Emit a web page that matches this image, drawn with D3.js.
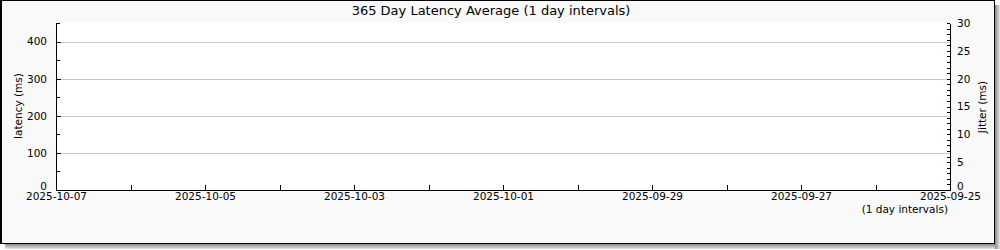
<!DOCTYPE html>
<html>
<head>
<meta charset="utf-8">
<script src="https://cdn.jsdelivr.net/npm/d3@7"></script>
<style>
  body { margin: 0; background: #fff; }
  svg text { font-family: 'DejaVu Sans', sans-serif; fill: #000; }
  .axis path, .axis line { stroke: #000; shape-rendering: crispEdges; }
</style>
</head>
<body>
<svg id="chart" width="1000" height="250"></svg>
<script>
// chart values
const title = '365 Day Latency Average (1 day intervals)'
const dayStart = '2025-09-25'
const dayEnd = '2025-10-07'
const latencyTicks = [0, 100, 200, 300, 400]
const latencyMinor = [50, 150, 250, 350, 450]
const latencyMax = 450
const jitterTicks = [0, 5, 10, 15, 20, 25, 30]
const jitterMax = 30
// no samples in the window, so both series are empty
const latencyDates = []
const latencyValues = []
const jitterValues = []

const plot = { left: 56, right: 950, top: 23, bottom: 190 }
const svg = d3.select('#chart')
const parse = d3.utcParse('%Y-%m-%d')
const fmt = d3.utcFormat('%Y-%m-%d')

// shadow + frame
const defs = svg.append('defs')
const gb = defs.append('linearGradient').attr('id', 'shB').attr('x1', 0).attr('y1', 0).attr('x2', 0).attr('y2', 1)
gb.append('stop').attr('offset', 0).attr('stop-color', '#888')
gb.append('stop').attr('offset', 1).attr('stop-color', '#e8e8e8')
const gr = defs.append('linearGradient').attr('id', 'shR').attr('x1', 0).attr('y1', 0).attr('x2', 1).attr('y2', 0)
gr.append('stop').attr('offset', 0).attr('stop-color', '#888')
gr.append('stop').attr('offset', 1).attr('stop-color', '#e8e8e8')
svg.append('rect').attr('x', 5).attr('y', 244).attr('width', 991).attr('height', 5).attr('fill', 'url(#shB)')
svg.append('rect').attr('x', 995).attr('y', 5).attr('width', 5).attr('height', 244).attr('fill', 'url(#shR)')
svg.append('rect')
  .attr('x', 0.5).attr('y', 0.5).attr('width', 994).attr('height', 243)
  .attr('fill', '#f9f9f9').attr('stroke', '#000').attr('stroke-width', 1)
svg.append('rect').attr('x', 0).attr('y', 0).attr('width', 2).attr('height', 244).attr('fill', '#000')

svg.append('rect')
  .attr('x', plot.left).attr('y', plot.top)
  .attr('width', plot.right - plot.left).attr('height', plot.bottom - plot.top)
  .attr('fill', '#fff')

// scales
const x = d3.scaleUtc()
  .domain([parse(dayEnd), parse(dayStart)])
  .range([plot.left, plot.right])
const yLat = d3.scaleLinear().domain([0, latencyMax]).range([plot.bottom, plot.top])
const yJit = d3.scaleLinear().domain([0, jitterMax]).range([plot.bottom, plot.top])

// grid
svg.append('g').selectAll('line')
  .data(latencyTicks.filter(v => v > 0))
  .enter().append('line')
  .attr('x1', plot.left).attr('x2', plot.right)
  .attr('y1', d => Math.round(yLat(d)) + 0.5).attr('y2', d => Math.round(yLat(d)) + 0.5)
  .attr('stroke', '#c8c8c8')

// series (empty)
const line = d3.line().x((d, i) => x(parse(latencyDates[i]))).y(d => yLat(d))
svg.append('path').datum(latencyValues).attr('fill', 'none').attr('stroke', '#00cc00').attr('d', line)
const jline = d3.line().x((d, i) => x(parse(latencyDates[i]))).y(d => yJit(d))
svg.append('path').datum(jitterValues).attr('fill', 'none').attr('stroke', '#0000ff').attr('d', jline)

// left axis
svg.append('g').attr('class', 'axis')
  .attr('transform', `translate(${plot.left},0)`)
  .call(d3.axisLeft(yLat).tickValues(latencyMinor).tickSize(-4).tickSizeOuter(0).tickFormat(''))
const la = svg.append('g').attr('class', 'axis')
  .attr('transform', `translate(${plot.left},0)`)
  .call(d3.axisLeft(yLat).tickValues(latencyTicks).tickSize(-5).tickSizeOuter(0).tickPadding(9))
la.selectAll('text').style('font-size', '10.5px').attr('font-family', null)
  .filter(d => d === 0).attr('dy', '-0.05em')

// right axis
const jMinor = d3.range(0, jitterMax + 1).filter(v => v % 5 !== 0)
svg.append('g').attr('class', 'axis')
  .attr('transform', `translate(${plot.right},0)`)
  .call(d3.axisRight(yJit).tickValues(jMinor).tickSize(-3).tickSizeOuter(0).tickFormat(''))
const ra = svg.append('g').attr('class', 'axis')
  .attr('transform', `translate(${plot.right},0)`)
  .call(d3.axisRight(yJit).tickValues(jitterTicks).tickSize(-3).tickSizeOuter(0).tickPadding(7))
ra.selectAll('text').style('font-size', '10.5px').attr('font-family', null)
  .filter(d => d === 0).attr('dy', '-0.05em')

// bottom axis: a tick per day, a label every other day
const days = d3.utcDay.range(parse(dayStart), d3.utcDay.offset(parse(dayEnd), 1))
const xa = svg.append('g').attr('class', 'axis')
  .attr('transform', `translate(0,${plot.bottom})`)
  .call(d3.axisBottom(x).tickValues(days).tickSize(-5).tickSizeOuter(0).tickPadding(3)
    .tickFormat(d => (d3.utcDay.count(d, parse(dayEnd)) % 2 === 0 ? fmt(d) : '')))
xa.selectAll('text').style('font-size', '10.5px').attr('font-family', null)

// titles
svg.append('text')
  .attr('x', 491).attr('y', 15)
  .attr('text-anchor', 'middle').style('font-size', '13px')
  .text(title)
svg.append('text')
  .attr('transform', `translate(22,106) rotate(-90)`)
  .attr('text-anchor', 'middle').style('font-size', '10.5px')
  .text('latency (ms)')
svg.append('text')
  .attr('transform', `translate(986,107) rotate(-90)`)
  .attr('text-anchor', 'middle').style('font-size', '10.5px')
  .text('Jitter (ms)')
svg.append('text')
  .attr('x', 948).attr('y', 213)
  .attr('text-anchor', 'end').style('font-size', '10.5px')
  .text('(1 day intervals)')
</script>
</body>
</html>
